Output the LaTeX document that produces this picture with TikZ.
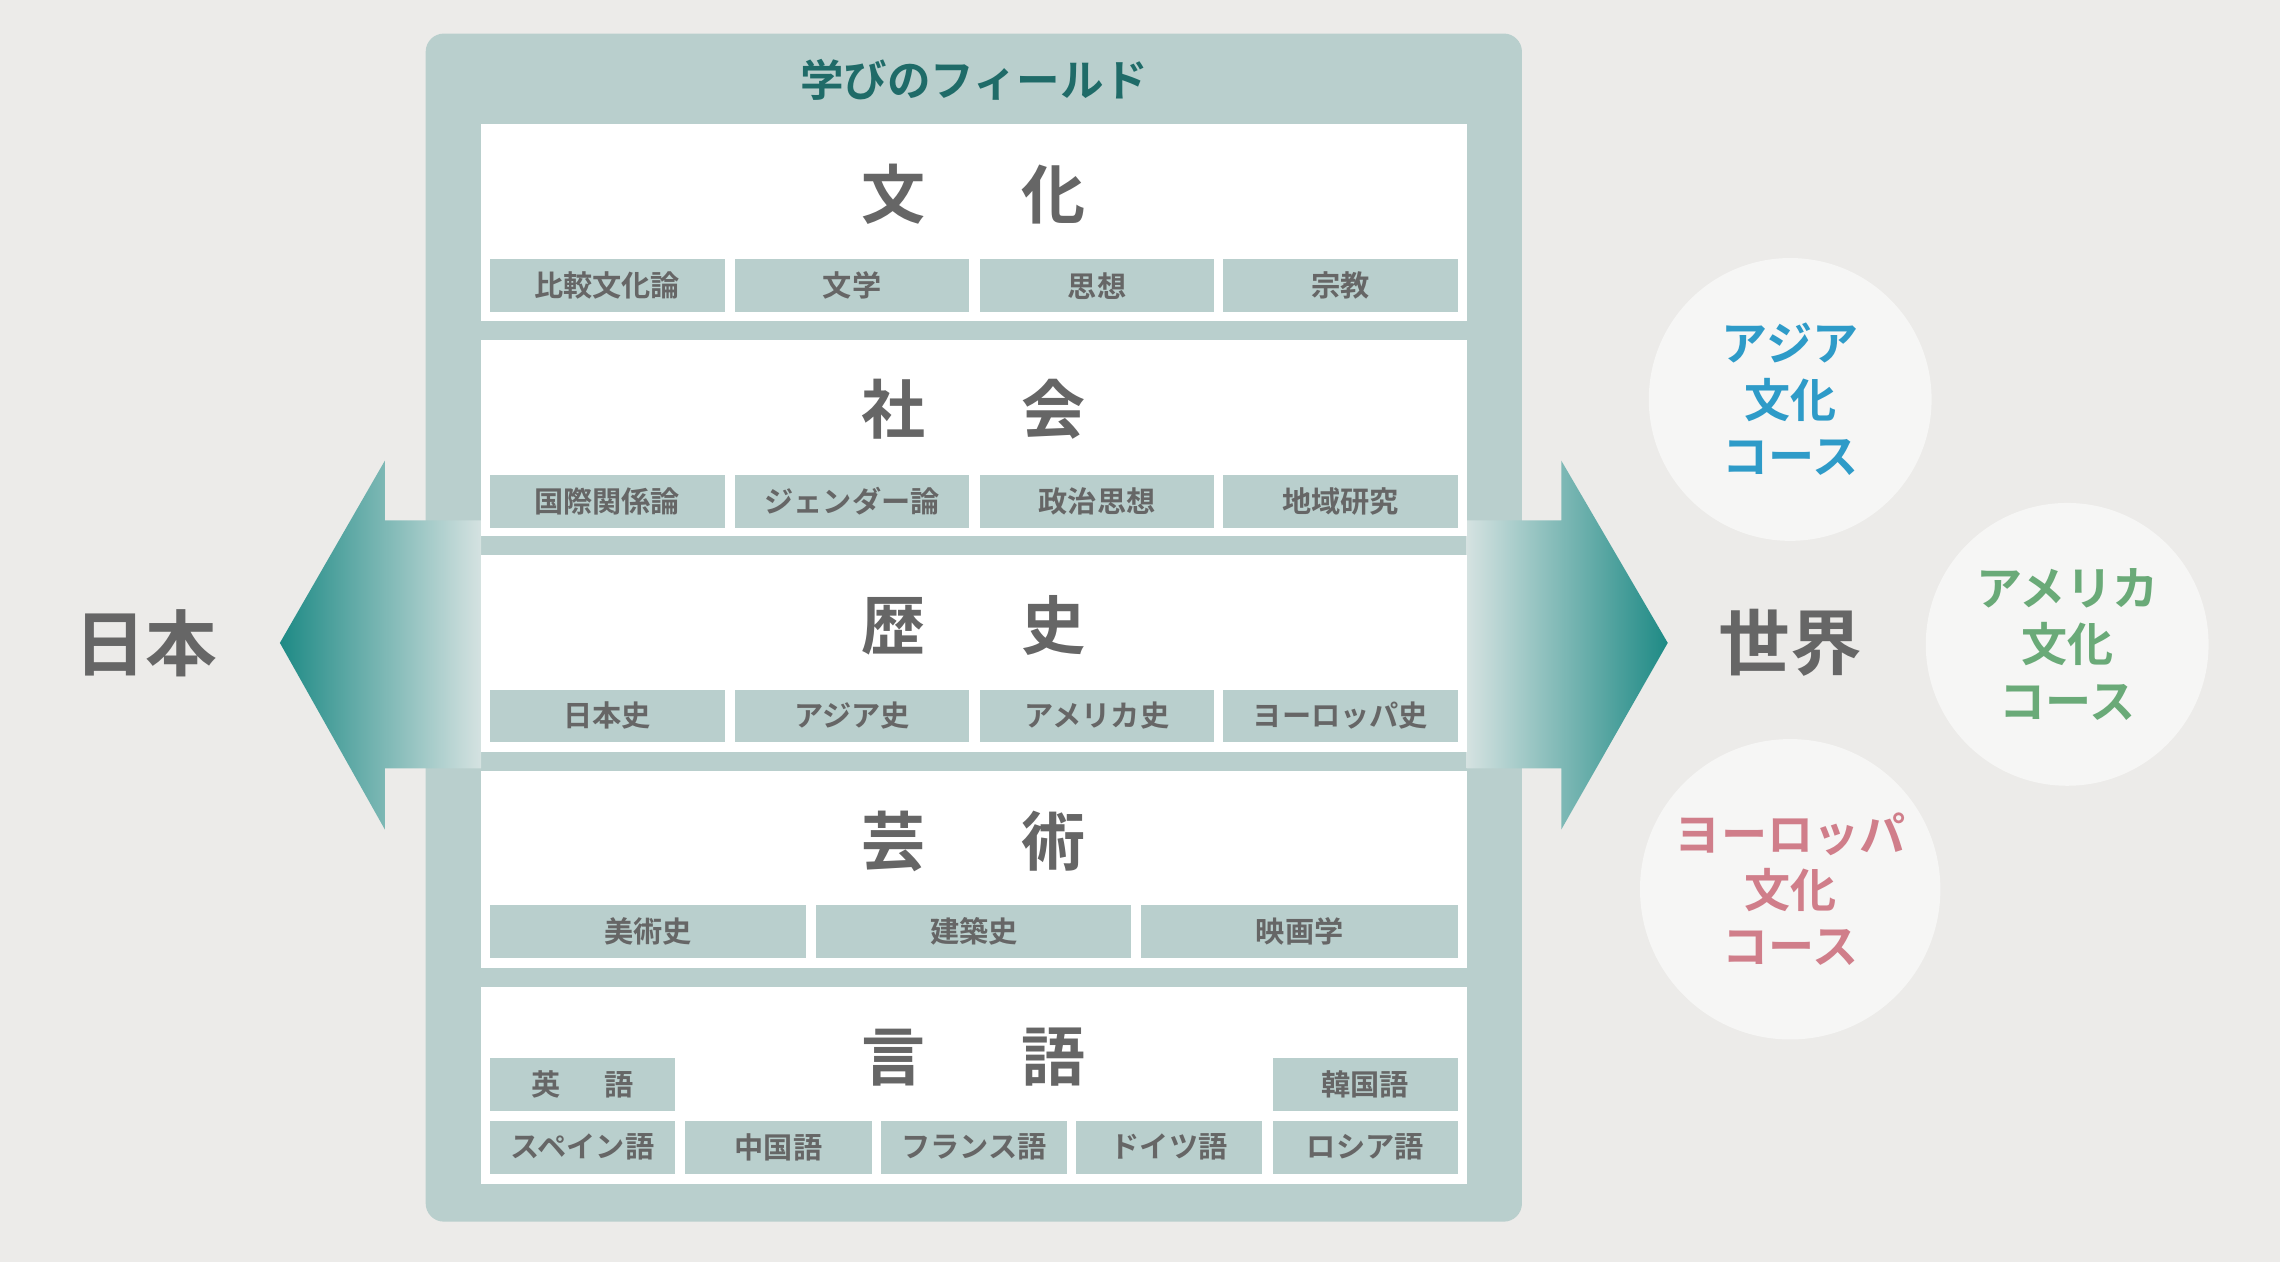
\documentclass[tikz,border=0pt]{standalone}
\usepackage{fontspec}
\setmainfont{Noto Sans CJK JP}[BoldFont={Noto Sans CJK JP Bold}]
\usetikzlibrary{shadings}
\definecolor{bgc}{HTML}{ECEBE9}
\definecolor{panel}{HTML}{B9CFCD}
\definecolor{tealdk}{HTML}{1F6B68}
\definecolor{tealar}{HTML}{1E8A85}
\definecolor{gtxt}{HTML}{666666}
\definecolor{cblue}{HTML}{2E9BC8}
\definecolor{cgreen}{HTML}{6AAA78}
\definecolor{cpink}{HTML}{D07E8A}
\definecolor{circ}{HTML}{F6F6F5}
\tikzset{
 chip/.style={fill=panel,inner sep=0pt,font=\bfseries\fontsize{11.4}{12}\selectfont,text=gtxt},
 head/.style={font=\bfseries\fontsize{25}{26}\selectfont,text=gtxt},
 sect/.style={fill=white},
 ctext/.style={circle,fill=circ,minimum size=194*0.02cm,align=center,font=\bfseries\fontsize{18}{22}\selectfont}
}
\begin{document}
\begin{tikzpicture}[x=0.02cm,y=-0.02cm]
\fill[bgc] (0,0) rectangle (1564,866);
\useasboundingbox (0,0) rectangle (1564,866);
\fill[panel,rounded corners=0.25cm] (292,23) rectangle (1044,838);
\node[font=\bfseries\fontsize{17}{18}\selectfont,text=tealdk] (title) at (668,55) {学びのフィールド};
% arrows
\shade[left color=tealar,right color=panel!60!white,shading angle=90] (192,441) -- (264,316) -- (264,357) -- (330,357) -- (330,527) -- (264,527) -- (264,569) -- cycle;
\shade[right color=tealar,left color=panel!60!white] (1144,441) -- (1071,316) -- (1071,357) -- (1006,357) -- (1006,527) -- (1071,527) -- (1071,569) -- cycle;
% sections
\foreach \t in {85,233,381,529,677} \fill[sect] (330,\t) rectangle (1006,\t+135);
\node[head] (h1) at (668,133) {文\hspace{1.5em}化};
\node[head] (h2) at (668,281) {社\hspace{1.5em}会};
\node[head] (h3) at (668,429) {歴\hspace{1.5em}史};
\node[head] (h4) at (668,577) {芸\hspace{1.5em}術};
\node[head] (h5) at (668,725) {言\hspace{1.5em}語};
\newcommand\chipat[5]{\node[chip,minimum width={(#3-#2)*0.02cm},minimum height=36*0.02cm] (#5) at ({(#2+#3)/2},#4) {#1};}
\chipat{比較文化論}{336}{497}{196}{a1}\chipat{文学}{504}{665}{196}{a2}\chipat{思想}{672}{833}{196}{a3}\chipat{宗教}{839}{1000}{196}{a4}
\chipat{国際関係論}{336}{497}{344}{b1}\chipat{ジェンダー論}{504}{665}{344}{b2}\chipat{政治思想}{672}{833}{344}{b3}\chipat{地域研究}{839}{1000}{344}{b4}
\chipat{日本史}{336}{497}{491}{c1}\chipat{アジア史}{504}{665}{491}{c2}\chipat{アメリカ史}{672}{833}{491}{c3}\chipat{ヨーロッパ史}{839}{1000}{491}{c4}
\chipat{美術史}{336}{553}{639}{d1}\chipat{建築史}{560}{776}{639}{d2}\chipat{映画学}{783}{1000}{639}{d3}
\chipat{英\hspace{1.5em}語}{336}{463}{744}{e1}\chipat{韓国語}{873}{1000}{744}{e2}
\chipat{スペイン語}{336}{463}{787}{f1}\chipat{中国語}{470}{598}{787}{f2}\chipat{フランス語}{604}{732}{787}{f3}\chipat{ドイツ語}{738}{866}{787}{f4}\chipat{ロシア語}{873}{1000}{787}{f5}
\node[font=\bfseries\fontsize{28}{30}\selectfont,text=gtxt] (jp) at (100,441) {日本};
\node[font=\bfseries\fontsize{28}{30}\selectfont,text=gtxt] (wd) at (1228,441) {世界};
\node[ctext,text=cblue] (asia) at (1228,274) {アジア\\文化\\コース};
\node[ctext,text=cgreen] (amer) at (1418,442) {アメリカ\\文化\\コース};
\node[ctext,text=cpink] (euro) at (1228,610) {ヨーロッパ\\文化\\コース};
\end{tikzpicture}
\end{document}
